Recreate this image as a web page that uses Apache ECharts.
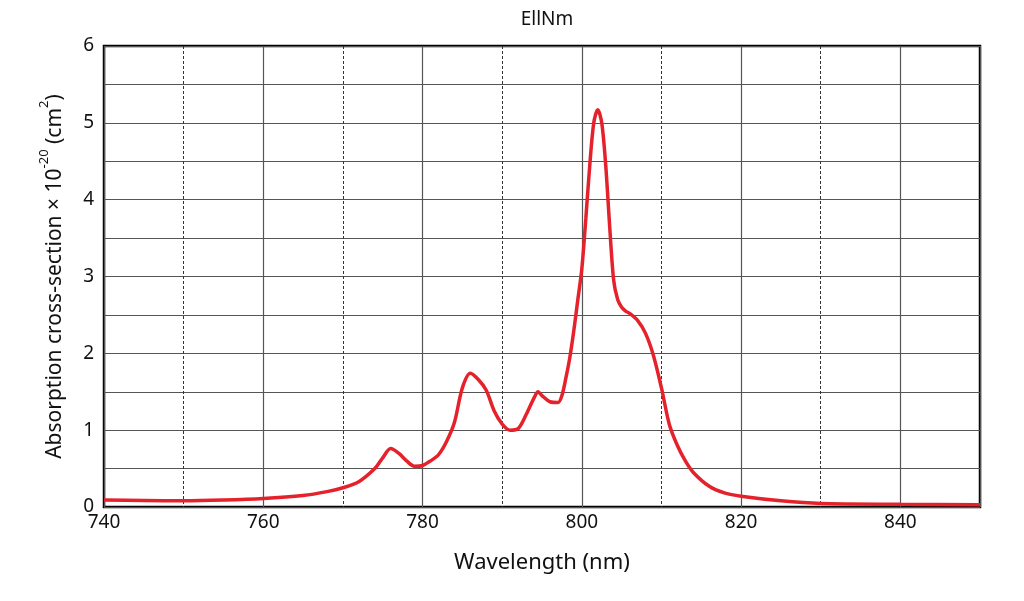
<!DOCTYPE html>
<html>
<head>
<meta charset="utf-8">
<script src="https://cdn.jsdelivr.net/npm/echarts@6/dist/echarts.min.js"></script>
<style>
  html, body { margin: 0; padding: 0; background: #fff; }
  #chart { width: 1024px; height: 601px; }
</style>
</head>
<body>
<div id="chart"></div>
<script>
// 波长 (nm)
const wavelength = [
  740, 745, 750, 755, 760, 765, 768, 770, 772, 774, 775, 776, 777, 778, 779, 780,
  781, 782, 783, 784, 785, 786, 787, 788, 789, 790, 791, 792, 793, 794, 794.5, 795,
  796, 797, 797.5, 798, 798.5, 799, 799.5, 800, 800.5, 801, 801.5, 802, 802.5, 803, 803.5,
  804, 804.5, 805, 805.5, 806, 807, 808, 809, 810, 811, 812, 813, 814, 816, 818, 820,
  825, 830, 840, 850
]
// 吸收截面 (×10^-20 cm²)
const crossSection = [
  0.09, 0.085, 0.08, 0.09, 0.11, 0.15, 0.2, 0.25, 0.33, 0.5, 0.64, 0.76, 0.7, 0.6, 0.53, 0.54,
  0.6, 0.68, 0.85, 1.1, 1.55, 1.74, 1.66, 1.52, 1.25, 1.08, 1.0, 1.02, 1.2, 1.42, 1.5, 1.45,
  1.37, 1.36, 1.45, 1.68, 1.95, 2.3, 2.7, 3.1, 3.75, 4.45, 5.0, 5.17, 5.0, 4.45, 3.65,
  2.95, 2.7, 2.6, 2.55, 2.52, 2.43, 2.26, 1.97, 1.55, 1.07, 0.8, 0.6, 0.45, 0.27, 0.18, 0.14,
  0.08, 0.045, 0.035, 0.03
]

const seriesData = wavelength.map((x, i) => [x, crossSection[i]])

const chart = echarts.init(document.getElementById('chart'))

const option = {
  animation: false,
  title: {
    text: 'EllNm',
    left: 542,
    top: 5,
    textAlign: 'center',
    textStyle: { fontFamily: 'Noto Sans', fontSize: 19, fontWeight: 'normal', color: '#111' }
  },
  grid: {
    left: 104,
    right: 44,
    top: 46,
    bottom: 94,
    show: true,
    borderColor: '#000',
    borderWidth: 2.5
  },
  xAxis: [
    {
      type: 'value',
      min: 740,
      max: 850,
      interval: 10,
      name: 'Wavelength (nm)',
      nameLocation: 'middle',
      nameGap: 45,
      nameTextStyle: { fontFamily: 'Noto Sans', fontSize: 22, color: '#111' },
      axisLine: { show: false },
      axisTick: { show: false },
      axisLabel: {
        margin: 6,
        fontFamily: 'Noto Sans',
        fontSize: 19,
        color: '#111',
        formatter: (v) => (v % 20 === 0 && v < 850 ? String(v) : '')
      },
      splitLine: { lineStyle: { color: '#333', width: 1, type: [3, 2] } }
    },
    {
      // 实线主网格 (每 20nm)
      type: 'value',
      min: 740,
      max: 850,
      interval: 20,
      position: 'bottom',
      axisLine: { show: false },
      axisTick: { show: false },
      axisLabel: { show: false },
      splitLine: { lineStyle: { color: '#555', width: 1.2 } }
    }
  ],
  yAxis: {
    type: 'value',
    min: 0,
    max: 6,
    interval: 0.5,
    name: '{a|Absorption cross-section × 10}{s|-20}{a| (cm}{s|2}{a|)}',
    nameLocation: 'middle',
    nameGap: 38,
    nameTextStyle: {
      rich: {
        a: { fontFamily: 'Noto Sans', fontSize: 21, color: '#111', lineHeight: 28, verticalAlign: 'bottom' },
        s: { fontFamily: 'Noto Sans', fontSize: 13, color: '#111', lineHeight: 28, verticalAlign: 'top' }
      }
    },
    axisLine: { show: false },
    axisTick: { show: false },
    axisLabel: {
      margin: 10,
      fontFamily: 'Noto Sans',
      fontSize: 19,
      color: '#111',
      formatter: (v) => (Number.isInteger(v) ? String(v) : '')
    },
    splitLine: { lineStyle: { color: '#555', width: 1.2 } }
  },
  series: [
    {
      name: 'EllNm',
      type: 'line',
      xAxisIndex: 0,
      data: seriesData,
      smooth: 0.3,
      showSymbol: false,
      lineStyle: { color: '#e5222b', width: 3.5 }
    }
  ]
}

chart.setOption(option)
</script>
</body>
</html>
